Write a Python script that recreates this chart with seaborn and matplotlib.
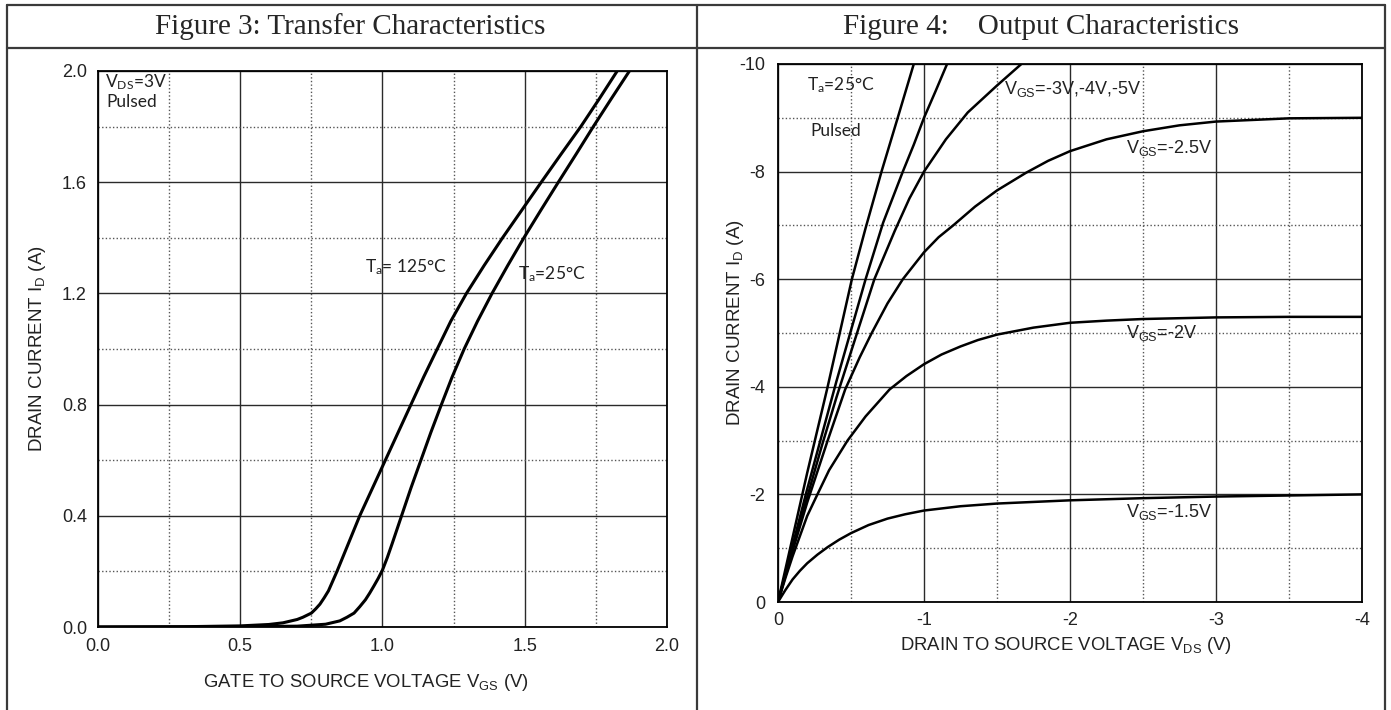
import matplotlib
matplotlib.use('Agg')
import matplotlib.pyplot as plt
import seaborn as sns
from matplotlib.ticker import MultipleLocator, FormatStrFormatter
from matplotlib.lines import Line2D

# Figure 3: transfer characteristics (VGS in V, ID in A)
vgs_125 = [0.0, 0.3, 0.5, 0.6, 0.65, 0.7, 0.72, 0.75, 0.765, 0.78, 0.795, 0.81, 0.825, 0.84,
           0.88, 0.92, 0.965, 1.01, 1.055, 1.1, 1.145, 1.19, 1.24, 1.295, 1.357, 1.422, 1.49,
           1.558, 1.627, 1.697, 1.762, 1.825]
id_125 = [0.0, 0.001, 0.004, 0.009, 0.015, 0.027, 0.035, 0.05, 0.065, 0.082, 0.105, 0.13,
          0.165, 0.2, 0.3, 0.4, 0.5, 0.6, 0.7, 0.8, 0.9, 0.995, 1.1, 1.2, 1.3, 1.4, 1.5,
          1.6, 1.7, 1.8, 1.9, 2.0]
vgs_25 = [0.0, 0.5, 0.7, 0.8, 0.85, 0.875, 0.9, 0.92, 0.94, 0.955, 0.97, 0.985, 1.0, 1.017,
          1.034, 1.067, 1.1, 1.135, 1.17, 1.207, 1.245, 1.287, 1.334, 1.385, 1.44, 1.497,
          1.557, 1.618, 1.68, 1.741, 1.804, 1.868]
id_25 = [0.0, 0.001, 0.003, 0.01, 0.022, 0.035, 0.05, 0.073, 0.098, 0.122, 0.148, 0.175,
         0.205, 0.25, 0.3, 0.4, 0.5, 0.6, 0.7, 0.8, 0.9, 1.0, 1.1, 1.2, 1.3, 1.4, 1.5, 1.6,
         1.7, 1.8, 1.9, 2.0]

# Figure 4: output characteristics (VDS in V, ID in A)
vds_5 = [0.0, -0.1, -0.2, -0.34, -0.506, -0.6, -0.709, -0.82, -0.93]
id_5 = [0.0, -1.2, -2.4, -4.0, -6.0, -6.95, -8.0, -9.0, -10.0]
vds_4 = [0.0, -0.1, -0.2, -0.3, -0.4, -0.5, -0.6, -0.72, -0.855, -0.93, -1.0, -1.08, -1.158]
id_4 = [0.0, -1.05, -2.1, -3.1, -4.1, -5.05, -6.0, -7.05, -8.0, -8.5, -9.0, -9.5, -10.0]
vds_3 = [0.0, -0.1, -0.2, -0.3, -0.4, -0.5, -0.66, -0.8, -0.9, -1.0, -1.15, -1.3, -1.4,
         -1.5, -1.667]
id_3 = [0.0, -1.0, -1.95, -2.9, -3.8, -4.65, -6.0, -6.9, -7.5, -8.0, -8.6, -9.1, -9.35,
        -9.6, -10.0]
vds_25 = [0.0, -0.1, -0.2, -0.34, -0.46, -0.56, -0.642, -0.75, -0.855, -1.0, -1.1, -1.2,
          -1.35, -1.5, -1.7, -1.85, -2.0, -2.25, -2.5, -2.75, -3.0, -3.5, -4.0]
id_25v = [0.0, -0.95, -1.85, -3.0, -3.95, -4.55, -5.0, -5.55, -6.0, -6.5, -6.78, -7.0,
          -7.35, -7.65, -7.98, -8.2, -8.38, -8.6, -8.75, -8.86, -8.93, -8.99, -9.0]
vds_2 = [0.0, -0.05, -0.1, -0.2, -0.27, -0.35, -0.476, -0.6, -0.764, -0.88, -1.0, -1.12,
         -1.25, -1.37, -1.5, -1.75, -2.0, -2.25, -2.5, -3.0, -3.5, -4.0]
id_2 = [0.0, -0.44, -0.85, -1.6, -2.0, -2.45, -3.0, -3.45, -3.95, -4.2, -4.42, -4.6,
        -4.75, -4.87, -4.97, -5.1, -5.19, -5.23, -5.26, -5.29, -5.3, -5.3]
vds_15 = [0.0, -0.05, -0.1, -0.15, -0.2, -0.27, -0.34, -0.42, -0.5, -0.62, -0.75, -0.87,
          -1.0, -1.25, -1.5, -1.75, -2.0, -2.5, -3.0, -3.5, -4.0]
id_15 = [0.0, -0.22, -0.42, -0.58, -0.72, -0.88, -1.02, -1.16, -1.28, -1.43, -1.55, -1.63,
         -1.7, -1.78, -1.83, -1.86, -1.89, -1.93, -1.96, -1.98, -2.0]

sns.set_style('white')
plt.rcParams['font.family'] = ['Liberation Sans', 'DejaVu Sans']
plt.rcParams['axes.unicode_minus'] = False

fig = plt.figure(figsize=(13.91, 7.10), dpi=100)
ax1 = fig.add_axes([0.07045, 0.1169, 0.40906, 0.7831])
ax2 = fig.add_axes([0.55931, 0.15211, 0.41984, 0.75775])


def style_axes(ax):
    ax.set_axisbelow(True)
    ax.grid(which='major', color='#2a2a2a', lw=1.0, ls='-')
    ax.grid(which='minor', color='#555555', lw=1.0, ls=(0, (1, 1.6)))
    ax.tick_params(which='both', length=0, labelsize=13, colors='#222222')
    for sp in ax.spines.values():
        sp.set_visible(True)
        sp.set_color('black')
        sp.set_linewidth(1.3)


# --- left: transfer characteristics
for v, i in [(vgs_125, id_125), (vgs_25, id_25)]:
    sns.lineplot(x=v, y=i, ax=ax1, color='black', lw=2.2, sort=False, estimator=None)
ax1.set_xlim(0, 2.0)
ax1.set_ylim(0, 2.0)
ax1.xaxis.set_major_locator(MultipleLocator(0.5))
ax1.xaxis.set_minor_locator(MultipleLocator(0.25))
ax1.yaxis.set_major_locator(MultipleLocator(0.4))
ax1.yaxis.set_minor_locator(MultipleLocator(0.2))
ax1.xaxis.set_major_formatter(FormatStrFormatter('%.1f'))
ax1.yaxis.set_major_formatter(FormatStrFormatter('%.1f'))
style_axes(ax1)
ax1.tick_params(axis='x', pad=8)
ax1.tick_params(axis='y', pad=8)
ax1.set_xlabel(r'GATE TO SOURCE VOLTAGE $\mathregular{V_{GS}}$ (V)', fontsize=13.3,
               color='#222222', va='center')
ax1.xaxis.set_label_coords(0.47, -0.099)
ax1.set_ylabel(r'DRAIN CURRENT $\mathregular{I_D}$ (A)', fontsize=13.5, color='#222222',
               va='center')
ax1.yaxis.set_label_coords(-0.107, 0.5)

ann = dict(fontsize=12.5, family=['Lato', 'DejaVu Sans'], color='#222222', va='center')
ax1.text(0.025, 1.96, r'$\mathregular{V_{DS}}$=3V', **ann)
ax1.text(0.03, 1.89, 'Pulsed', **ann)
ax1.text(0.94, 1.295, r'$\mathregular{T_a}$= 125°C', **ann)
ax1.text(1.476, 1.27, r'$\mathregular{T_a}$=25°C', **ann)

# --- right: output characteristics
for v, i in [(vds_5, id_5), (vds_4, id_4), (vds_3, id_3), (vds_25, id_25v),
             (vds_2, id_2), (vds_15, id_15)]:
    sns.lineplot(x=v, y=i, ax=ax2, color='black', lw=1.8, sort=False, estimator=None)
ax2.set_xlim(0, -4)
ax2.set_ylim(0, -10)
ax2.xaxis.set_major_locator(MultipleLocator(1))
ax2.xaxis.set_minor_locator(MultipleLocator(0.5))
ax2.yaxis.set_major_locator(MultipleLocator(2))
ax2.yaxis.set_minor_locator(MultipleLocator(1))
style_axes(ax2)
ax2.tick_params(axis='x', pad=7)
ax2.tick_params(axis='y', pad=9)
ax2.set_xlabel(r'DRAIN TO SOURCE VOLTAGE $\mathregular{V_{DS}}$ (V)', fontsize=13.3,
               color='#222222', va='center')
ax2.xaxis.set_label_coords(0.493, -0.08)
ax2.set_ylabel(r'DRAIN CURRENT $\mathregular{I_D}$ (A)', fontsize=13.5, color='#222222',
               va='center')
ax2.yaxis.set_label_coords(-0.0736, 0.52)

ax2.text(-0.2, -9.6, r'$\mathregular{T_a}$=25°C', **ann)
ax2.text(-0.22, -8.75, 'Pulsed', **ann)
lab = dict(fontsize=13, color='#222222', va='center')
ax2.text(-1.55, -9.53, r'$\mathregular{V_{GS}}$=-3V,-4V,-5V', **lab)
ax2.text(-2.385, -8.44, r'$\mathregular{V_{GS}}$=-2.5V', **lab)
ax2.text(-2.385, -5.0, r'$\mathregular{V_{GS}}$=-2V', **lab)
ax2.text(-2.385, -1.67, r'$\mathregular{V_{GS}}$=-1.5V', **lab)

# --- table frame and headers
W, H = 1391.0, 710.0
border = dict(color='#3a3a3a', lw=1.6, transform=fig.transFigure)
fig.add_artist(Line2D([7 / W, 1385 / W], [1 - 5 / H, 1 - 5 / H], **border))
fig.add_artist(Line2D([7 / W, 1385 / W], [1 - 48 / H, 1 - 48 / H], **border))
for xp in [7, 697, 1385]:
    fig.add_artist(Line2D([xp / W, xp / W], [0, 1 - 5 / H], **border))

hdr = dict(ha='center', va='center', fontsize=21, family=['Liberation Serif', 'DejaVu Serif'])
fig.text(350 / W, 1 - 27 / H, 'Figure 3: Transfer Characteristics', **hdr)
fig.text(1041 / W, 1 - 27 / H, 'Figure 4:    Output Characteristics', **hdr)

fig.savefig('out.png', dpi=100, facecolor='white')
